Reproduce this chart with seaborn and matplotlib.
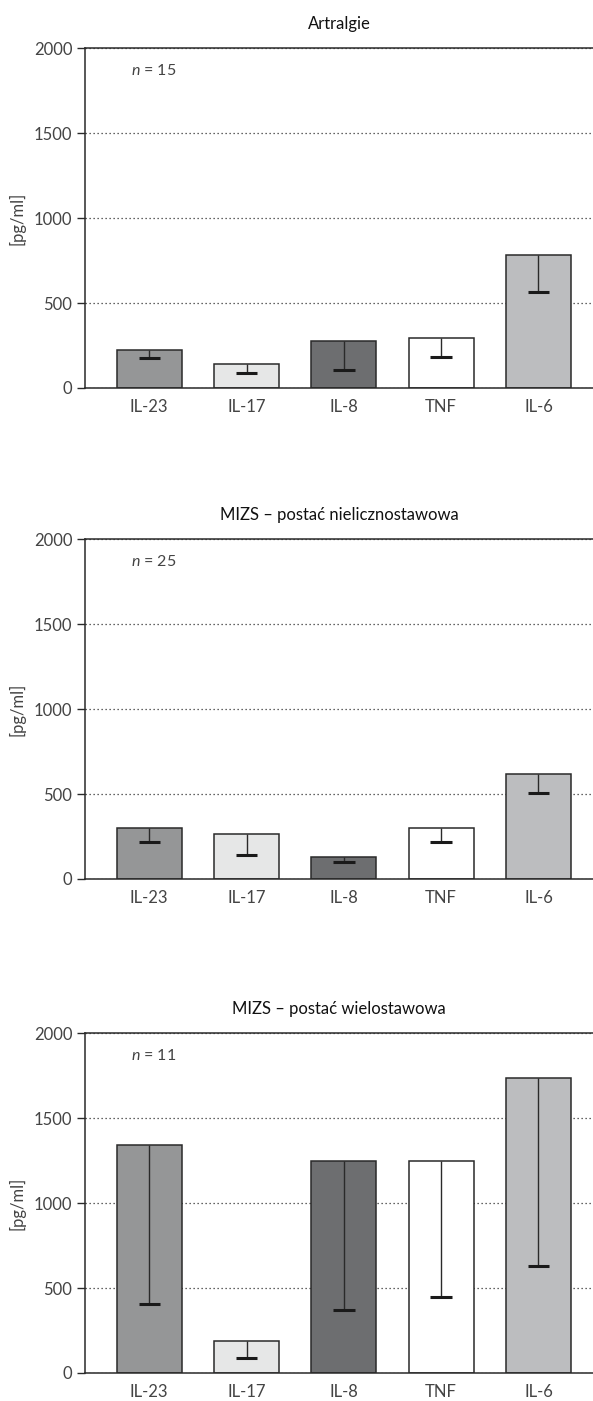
import pandas as pd
import numpy as np
import matplotlib
matplotlib.use("Agg")
import matplotlib.pyplot as plt
import seaborn as sns

# dane
cytokines = ["IL-23", "IL-17", "IL-8", "TNF", "IL-6"]
titles = ["Artralgie", "MIZS – postać nielicznostawowa", "MIZS – postać wielostawowa"]
n_labels = ["15", "25", "11"]

means_artralgie = [224, 139, 275, 292, 781]
lower_artralgie = [175, 86, 106, 182, 565]

means_oligo = [302, 265, 131, 298, 618]
lower_oligo = [219, 141, 102, 219, 509]

means_poly = [1341, 188, 1249, 1245, 1737]
lower_poly = [408, 88, 373, 447, 629]

bar_colors = ["#959697", "#e6e7e7", "#6d6e70", "#ffffff", "#bcbdbf"]

sns.set_theme(style="white")
plt.rcParams["font.family"] = ["Lato", "DejaVu Sans"]
plt.rcParams["mathtext.fontset"] = "custom"
plt.rcParams["mathtext.it"] = "Lato:italic"
plt.rcParams["mathtext.rm"] = "Lato"

fig = plt.figure(figsize=(5.93, 14.01), dpi=100)

panels = [
    (means_artralgie, lower_artralgie),
    (means_oligo, lower_oligo),
    (means_poly, lower_poly),
]
bottoms = [0.7231, 0.3726, 0.0200]
txt_col = "#444444"

for i, (means, lower) in enumerate(panels):
    ax = fig.add_axes([0.1433, bottoms[i], 0.8567, 0.2425])
    df = pd.DataFrame({"cytokina": cytokines, "wartosc": means})
    sns.barplot(data=df, x="cytokina", y="wartosc", hue="cytokina",
                palette=bar_colors, legend=False, width=0.667,
                edgecolor="#2a2a2a", linewidth=1.1, ax=ax, zorder=2)
    # tylko dolny wąs błędu
    xs = np.arange(len(cytokines))
    ax.vlines(xs, lower, means, color="#2a2a2a", lw=1.0, zorder=3)
    ax.hlines(lower, xs - 0.11, xs + 0.11, color="#1a1a1a", lw=2.2, zorder=3)

    ax.set_xlim(-0.66, 4.56)
    ax.set_ylim(0, 2000)
    ax.set_yticks([0, 500, 1000, 1500, 2000])
    ax.yaxis.grid(True, linestyle=(0, (1, 2.2)), color="#333333", lw=0.9)
    ax.xaxis.grid(False)
    ax.set_axisbelow(True)

    for s in ["left", "bottom", "top"]:
        ax.spines[s].set_visible(True)
        ax.spines[s].set_color("#2a2a2a")
        ax.spines[s].set_linewidth(1.1)
    ax.spines["right"].set_visible(False)

    ax.tick_params(axis="y", length=6, width=1, color="#2a2a2a", left=True,
                   labelsize=12, labelcolor=txt_col, pad=3)
    ax.tick_params(axis="x", length=0, labelsize=12, labelcolor=txt_col, pad=8)

    ax.set_xlabel("")
    ax.set_ylabel("[pg/ml]", fontsize=12, color=txt_col, labelpad=6)
    ax.set_title(titles[i], fontsize=12, color="#111111", pad=14)
    ax.text(0.09, 0.935, "$n$ = " + n_labels[i], transform=ax.transAxes,
            fontsize=11.5, color=txt_col, ha="left", va="center")

fig.savefig("out.png", dpi=100)
